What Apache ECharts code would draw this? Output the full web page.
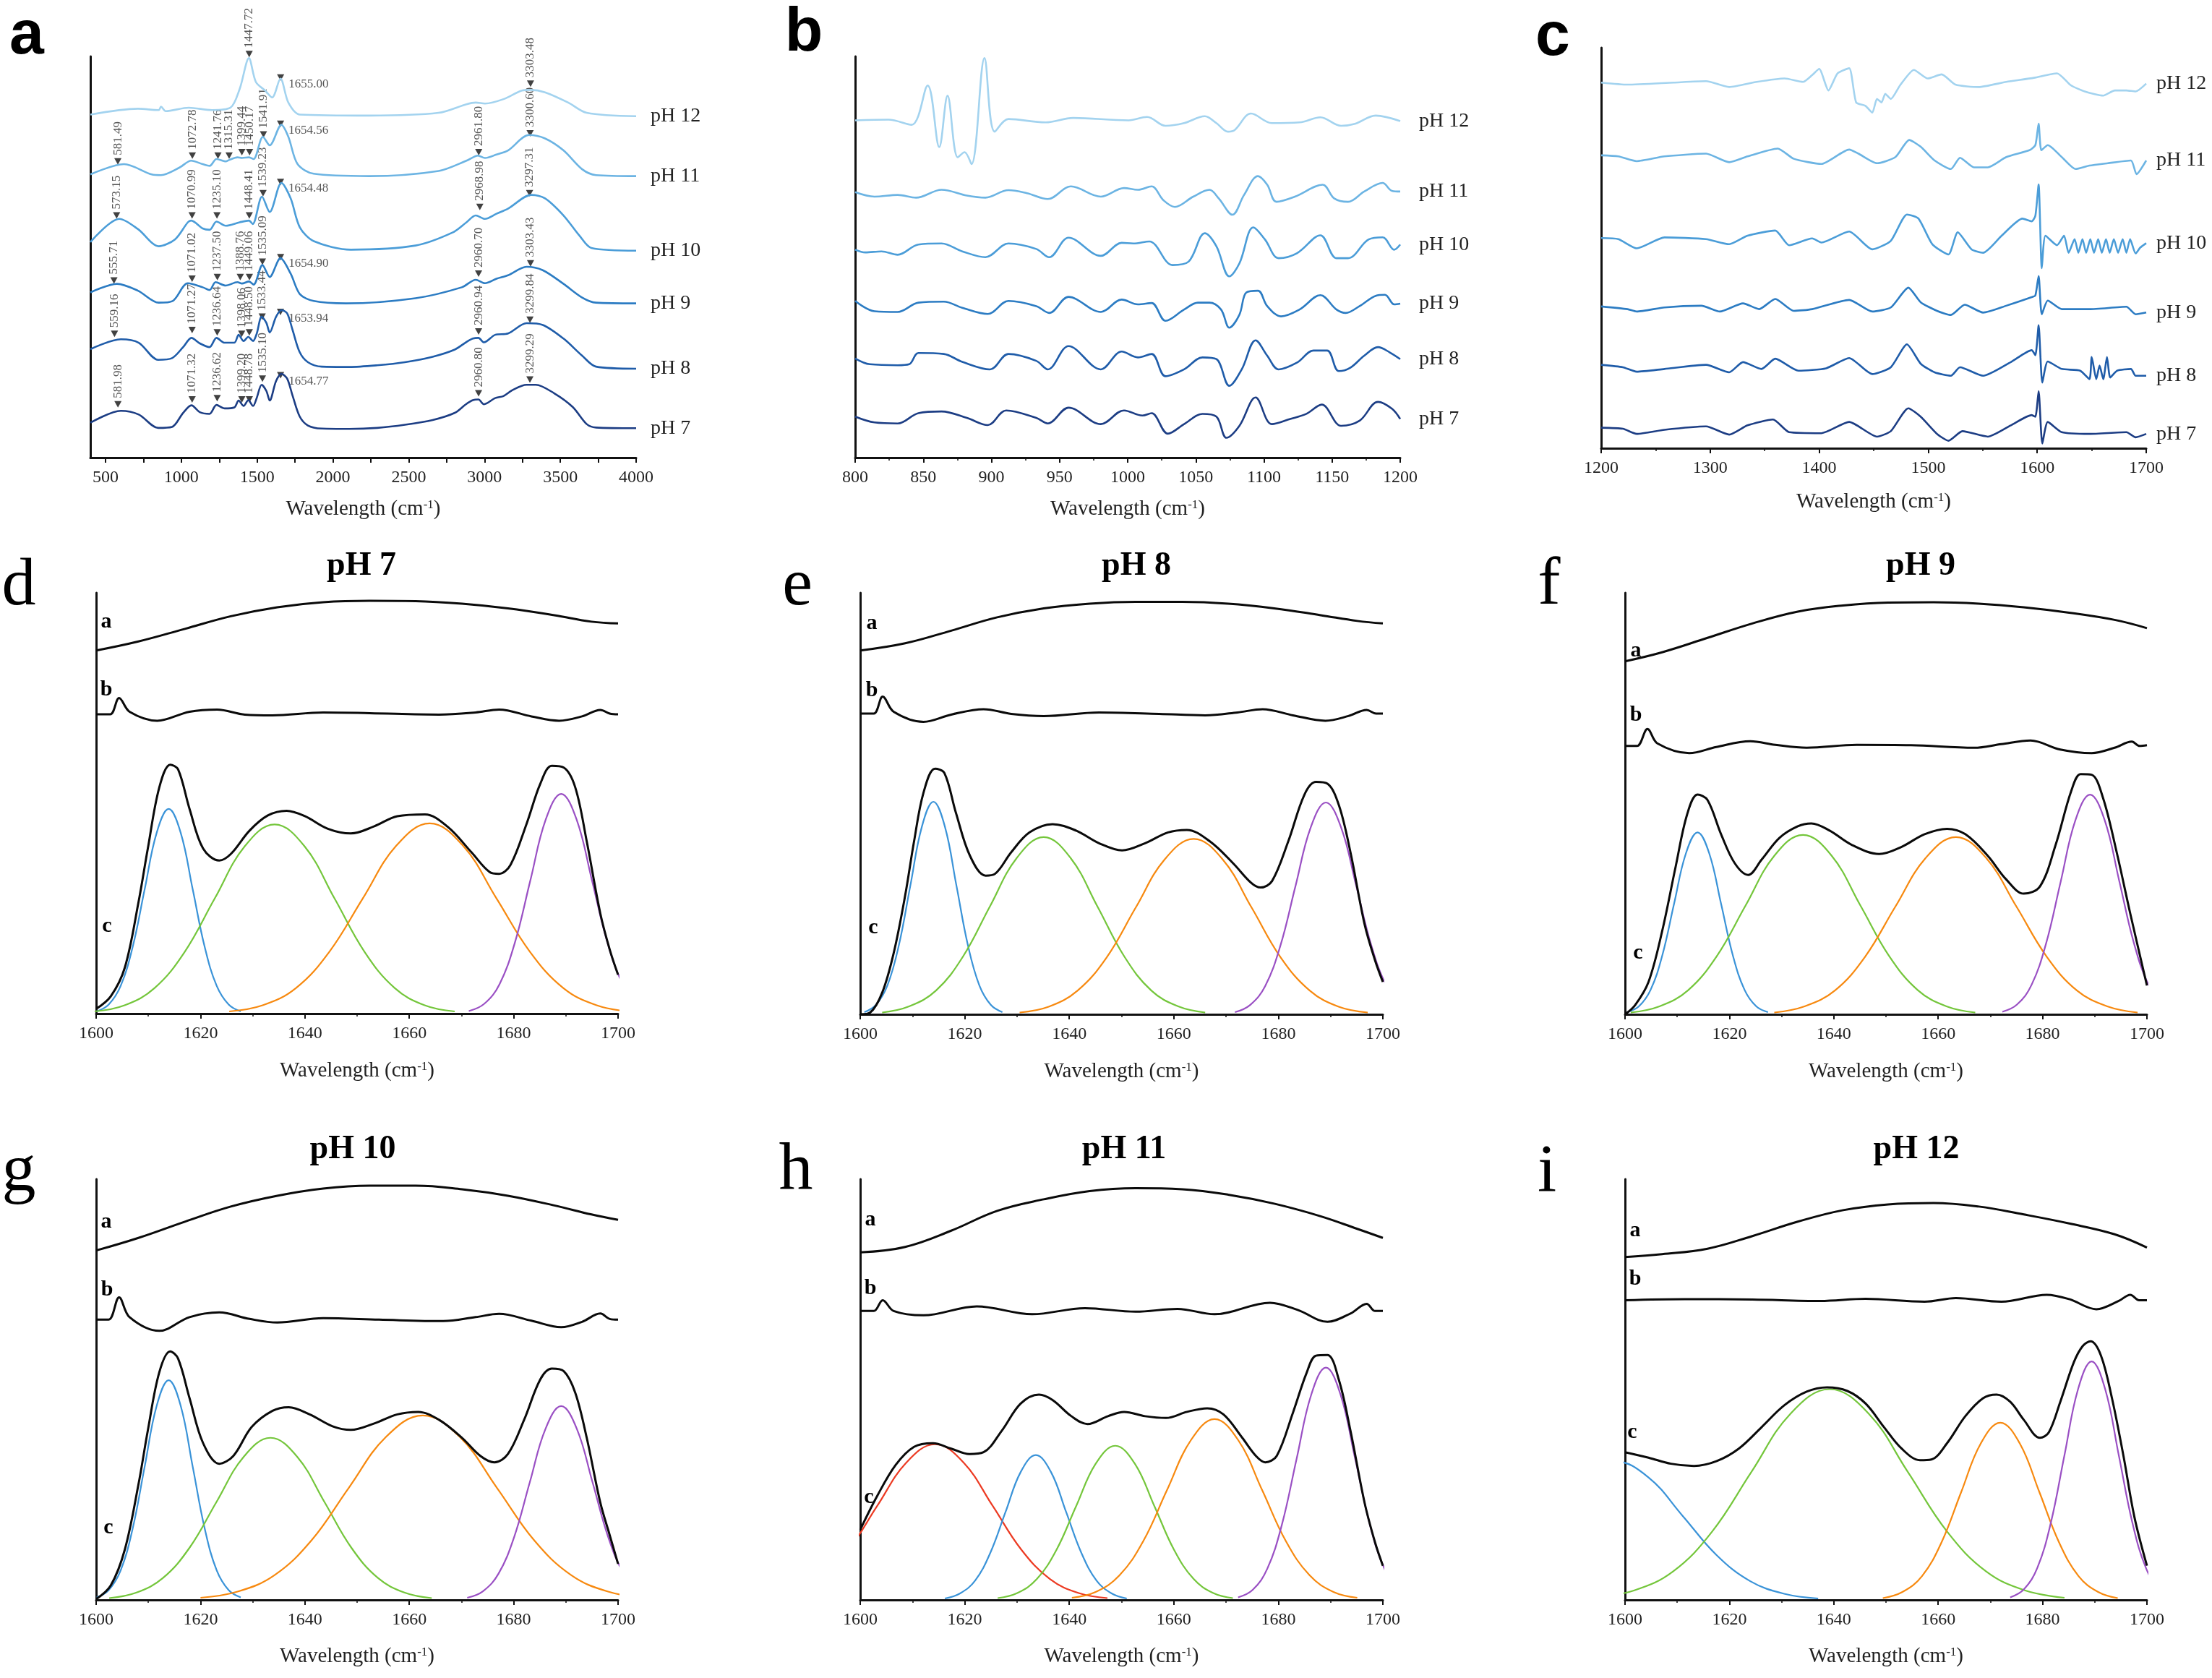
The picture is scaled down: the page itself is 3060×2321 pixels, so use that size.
<!DOCTYPE html>
<html><head><meta charset="utf-8">
<script src="https://cdn.jsdelivr.net/npm/echarts@6/dist/echarts.min.js"></script>
<style>html,body{margin:0;padding:0;background:#fff}#c{width:3060px;height:2321px}</style>
</head><body><div id="c"></div><script>
// ---------------- Panel a : full FTIR spectra (wavenumber, offset absorbance) ----------------
const aTickLabels = [500,1000,1500,2000,2500,3000,3500,4000];
const aTickMarks = [500,750,1000,1250,1500,1750,2000,2250,2500,2750,3000,3250,3500,3750,4000];
const aX7 = [400,601,719,847,939,1012,1067,1122,1186,1232,1286,1350,1378,1411,1442,1473,1497,1530,1561,1583,1625,1661,1698,1734,1780,1835,1926,2109,2292,2475,2658,2804,2877,2923,2960,2996,3070,3125,3186,3277,3338,3460,3582,3674,3735,4000];
const aY7 = [102,137,126,87,90,131,153,133,128,154,144,147,167,151,168,151,174,213,195,167,224,245,231,181,121,94,85,84,87,96,110,131,156,168,170,156,174,180,198,213,213,188,148,98,88,86];
const aX8 = [400,601,719,847,939,1012,1067,1122,1186,1232,1286,1350,1378,1411,1442,1473,1497,1530,1561,1583,1625,1661,1698,1734,1780,1835,1926,2109,2292,2475,2658,2804,2877,2923,2960,2996,3070,3155,3278,3384,3521,3644,3735,4000];
const aY8 = [317,346,336,286,291,323,350,334,323,350,336,336,359,341,353,341,362,412,394,366,412,431,422,373,309,279,266,265,270,279,295,316,337,348,350,337,359,363,393,388,348,298,266,260];
const aX9 = [400,576,714,851,943,1043,1141,1187,1226,1293,1370,1400,1446,1477,1535,1583,1654,1721,1782,1873,2087,2545,2850,2942,3003,3079,3155,3277,3384,3521,3644,3735,4000];
const aY9 = [483,508,488,453,458,510,498,490,513,503,513,509,515,506,563,528,583,538,478,458,451,466,498,520,510,523,533,558,548,508,468,453,451];
const aX10 = [400,592,714,851,958,1043,1065,1141,1187,1232,1293,1385,1446,1471,1532,1583,1660,1721,1782,1873,2118,2545,2789,2881,2942,3003,3079,3155,3308,3399,3521,3628,3705,4000];
const aY10 = [630,698,668,618,638,688,693,670,666,690,678,688,693,683,763,718,803,758,673,633,608,620,658,688,708,698,713,728,768,758,708,648,613,605];
const aX11 = [400,622,805,866,988,1065,1141,1187,1232,1293,1315,1370,1400,1446,1477,1538,1583,1660,1706,1767,1873,2240,2697,2881,2957,3003,3079,3155,3293,3399,3521,3644,3735,4000];
const aY11 = [828,858,828,826,848,868,858,853,873,866,870,878,876,878,873,938,913,973,938,858,830,823,838,868,883,876,886,898,943,933,898,843,826,823];
const aX12 = [400,714,851,866,897,1049,1202,1324,1385,1446,1492,1553,1599,1654,1706,1782,2240,2697,2881,2942,3003,3125,3247,3303,3399,3552,3674,4000];
const aY12 = [1003,1020,1016,1026,1013,1023,1016,1023,1078,1168,1098,1073,1053,1108,1038,1003,1000,1008,1033,1038,1035,1048,1073,1075,1068,1038,1008,998];

// peak annotations of panel a (peak wavenumber, arrow height)
const ann7 = [581.98,1071.32,1236.62,1399.20,1448.78,1535.10,2960.80,3299.29];
const ann7H = [156,170,174,170,170,231,188,228];
const ann8 = [559.16,1071.27,1236.64,1398.06,1448.50,1533.44,2960.94,3299.84];
const ann8H = [362,373,366,362,366,412,369,403];
const ann9 = [555.71,1071.02,1237.50,1388.76,1449.06,1535.09,2960.70,3303.43];
const ann9H = [518,523,528,528,528,573,538,568];
const ann10 = [573.15,1070.99,1235.10,1448.41,1539.23,2968.98,3297.31];
const ann10H = [708,708,708,708,773,733,773];
const ann11 = [581.49,1072.78,1241.76,1315.31,1399.44,1450.17,1541.91,2961.80,3300.60];
const ann11H = [866,883,883,883,893,893,945,893,948];
const ann12 = [1447.72,3303.48];
const ann12H = [1180,1093];
const amide = [1654.77,1653.94,1654.90,1654.48,1654.56,1655.00];
const amideH = [241,426,586,806,976,1111];

// ---------------- Panel b : 800-1200 ----------------
const bX7 = [800,814.2,831.2,846.4,863.4,882.0,897.3,910.8,932.9,941.4,956.6,980.3,997.3,1010.8,1017.6,1029.5,1041.4,1054.9,1065.1,1072.5,1082.0,1093.9,1105.8,1119.3,1131.2,1142.4,1156.6,1170.2,1183.7,1193.9,1200];
const bY7 = [120,103,100,130,135,116,95,138,116,100,146,98,138,123,130,70,98,128,120,58,93,176,98,113,128,155,93,108,163,143,113];
const bX8 = [800,810.8,831.2,839.7,846.4,865.1,878.6,899.0,912.5,932.9,941.4,956.6,980.3,995.6,1007.5,1017.6,1027.8,1041.4,1054.9,1065.1,1074.6,1083.7,1093.9,1102.4,1110.8,1124.4,1136.3,1146.4,1154.9,1163.4,1173.6,1183.7,1192.2,1200];
const bY8 = [290,273,270,273,306,303,280,258,303,283,258,326,258,310,293,303,238,258,293,288,210,258,343,298,258,278,313,313,253,263,298,323,308,288];
const bX9 = [800,814.2,831.2,846.4,865.1,878.6,897.3,912.5,932.9,942.4,956.6,980.3,995.6,1007.5,1017.6,1027.8,1041.4,1051.5,1060.0,1068.5,1074.6,1082.0,1087.1,1095.6,1102.4,1112.5,1126.1,1141.4,1153.2,1160.0,1170.2,1182.0,1188.8,1195.6,1200];
const bY9 = [458,428,426,453,456,438,420,458,443,423,470,426,462,448,452,400,433,453,453,433,380,418,483,488,443,413,433,475,433,423,443,473,476,448,450];
const bX10 = [800,807.5,819.3,831.2,846.4,863.4,878.6,895.6,912.5,932.9,942.4,956.6,980.3,995.6,1004.1,1015.9,1032.9,1044.7,1056.6,1065.1,1074.6,1082.0,1092.2,1100.7,1110.8,1124.4,1141.4,1153.2,1161.7,1176.9,1187.1,1195.6,1200];
const bY10 = [608,600,603,593,623,626,603,586,626,610,586,643,590,628,626,632,563,573,656,618,530,568,673,638,583,598,650,583,583,638,644,608,623];
const bX11 = [800,814.2,831.2,844.7,863.4,882.0,895.6,912.5,926.1,941.4,958.3,980.3,997.3,1007.5,1017.6,1026.1,1034.6,1048.1,1060.0,1066.8,1076.9,1085.4,1095.6,1102.4,1109.2,1122.7,1143.1,1151.5,1161.7,1173.6,1187.1,1193.9,1200];
const bY11 = [776,763,768,760,783,766,760,782,773,756,793,763,788,783,793,753,733,763,783,758,710,768,823,798,748,763,798,758,748,778,803,780,778];
const bX12 = [800,824.4,841.4,853.2,861.7,867.8,875.3,880.3,885.4,894.9,902.4,912.5,939.7,960.0,1000.7,1014.2,1027.8,1041.4,1056.6,1065.1,1073.6,1078.6,1090.5,1105.8,1126.1,1141.4,1156.6,1166.8,1182.0,1200];
const bY12 = [986,988,973,1088,908,1058,878,893,858,1168,953,990,980,993,986,996,970,978,998,978,953,958,1006,978,980,995,970,976,1000,984];

// ---------------- Panel c : 1200-1700 ----------------
const cX7 = [1200,1219.9,1232.6,1258.1,1296.2,1317.4,1334.3,1357.6,1372.5,1402.1,1427.5,1453.0,1465.7,1481.8,1493.2,1508.1,1518.6,1531.4,1554.7,1575.8,1594.9,1598.3,1601.3,1604.7,1609.7,1622.5,1647.9,1681.8,1690.3,1700];
const cY7 = [60,57,42,54,64,40,67,84,47,44,77,34,50,117,92,42,22,50,34,67,97,92,167,14,77,47,42,47,32,42];
const cX8 = [1200,1219.9,1232.6,1258.1,1296.2,1317.4,1330.1,1347.0,1359.7,1380.9,1406.4,1427.5,1448.7,1465.7,1480.5,1493.2,1505.9,1520.8,1529.2,1550.4,1575.8,1594.9,1598.3,1601.3,1604.7,1609.7,1622.5,1639.4,1647.9,1650.0,1654.2,1657.2,1660.6,1664.0,1667.0,1673.3,1686.0,1690.3,1700];
const cY8 = [244,237,224,232,244,222,252,232,262,227,234,264,217,237,304,247,222,212,237,212,252,287,272,360,192,254,232,227,202,267,202,242,202,267,207,227,232,212,212];
const cX9 = [1200,1224.2,1232.6,1258.1,1291.9,1308.9,1330.1,1344.9,1359.7,1376.7,1393.6,1427.5,1448.7,1465.7,1481.8,1493.2,1508.1,1520.8,1533.5,1550.4,1571.6,1594.9,1598.3,1601.3,1604.2,1609.7,1622.5,1647.9,1681.8,1690.3,1700];
const cY9 = [415,407,400,412,417,400,424,407,437,402,407,434,400,412,470,427,402,390,420,397,417,442,447,504,392,432,407,407,414,392,397];
const cX10 = [1200,1215.7,1232.6,1258.1,1296.2,1317.4,1334.3,1359.7,1372.5,1393.6,1402.1,1427.5,1448.7,1465.7,1480.5,1491.1,1503.8,1518.6,1527.1,1539.8,1550.4,1567.4,1586.4,1594.9,1598.3,1601.3,1604.2,1607.6,1618.2,1624.6,1628.8,1634.3,1637.7,1641.5,1644.9,1648.7,1652.1,1655.9,1659.3,1663.1,1666.5,1670.3,1674.2,1678.4,1681.8,1685.2,1690.3,1694.5,1700];
const cY10 = [615,612,585,617,612,597,622,637,594,614,602,634,582,607,684,672,597,567,632,582,572,622,672,664,680,772,527,622,594,622,572,612,572,612,572,612,572,612,572,612,572,612,572,612,572,612,570,587,600];
const cX11 = [1200,1215.7,1232.6,1258.1,1296.2,1317.4,1334.3,1361.9,1376.7,1402.1,1427.5,1436.0,1453.0,1469.9,1482.6,1493.2,1505.9,1520.8,1529.2,1542.0,1554.7,1571.6,1592.8,1598.3,1601.3,1603.8,1609.7,1622.5,1635.2,1647.9,1664.8,1686.0,1691.1,1700];
const cY11 = [857,854,840,854,862,837,854,877,847,832,874,862,834,852,902,882,842,817,850,822,822,852,872,887,950,872,887,852,817,827,834,842,802,842];
const cX12 = [1200,1224.2,1266.5,1296.2,1317.4,1342.8,1368.2,1385.2,1393.6,1400.0,1408.5,1416.9,1427.5,1433.9,1442.4,1448.7,1453.0,1457.2,1460.6,1465.7,1474.2,1486.9,1499.6,1512.3,1525.0,1546.2,1571.6,1597.0,1618.2,1630.9,1643.6,1660.6,1671.2,1681.8,1690.3,1700];
const cY12 = [1070,1064,1070,1074,1057,1072,1082,1072,1092,1110,1047,1097,1112,1012,1002,982,1022,1012,1037,1022,1062,1107,1082,1094,1064,1057,1072,1084,1097,1062,1044,1032,1047,1047,1044,1067];

// ---------------- Panels d-i : amide I deconvolution (1600-1700) ----------------
// d  pH 7
const dAx = [1600,1608.1,1617.0,1625.8,1634.7,1643.5,1652.4,1661.2,1670.1,1678.9,1687.8,1694.9,1700];
const dAy = [1008,1033,1068,1103,1128,1142,1146,1145,1138,1125,1106,1088,1083];
const dBx = [1600,1602.7,1604.4,1606.4,1611.7,1617.9,1623.2,1628.5,1633.8,1643.5,1652.4,1665.7,1672.7,1677.2,1683.4,1688.7,1693.1,1696.6,1698.4,1700];
const dBy = [831,831,876,838,813,838,844,830,828,836,834,830,836,844,825,813,825,843,833,831];
const dCx = [1600,1602.8,1605.5,1608.1,1609.9,1612.1,1614.2,1615.7,1617.9,1620.5,1623.6,1625.8,1629.4,1632.9,1636.5,1640.0,1644.4,1648.8,1653.3,1657.7,1663.0,1667.4,1671.9,1675.4,1677.2,1679.4,1682.5,1685.1,1687.3,1689.6,1691.8,1694.0,1696.6,1698.4,1700];
const dCy = [13,48,128,308,458,628,691,678,568,458,425,443,508,550,563,548,513,500,520,548,553,518,448,393,388,413,528,638,688,683,628,478,278,178,108];
const dBlueX = [1600.1,1602.4,1604.7,1607.0,1609.3,1611.6,1613.9,1616.2,1618.5,1620.8,1623.1,1625.4,1627.7];
const dBlueY = [6,25,77,185,345,502,568,502,345,185,77,25,6];
const dGreenX = [1599.7,1605.45,1611.2,1616.95,1622.7,1628.45,1634.2,1639.95,1645.7,1651.45,1657.2,1662.95,1668.7];
const dGreenY = [6,23,71,171,319,464,525,464,319,171,71,23,6];
const dOrangeX = [1625.5,1631.9,1638.3,1644.7,1651.1,1657.5,1663.9,1670.3,1676.7,1683.1,1689.5,1695.9,1702.3];
const dOrangeY = [6,23,71,172,320,466,528,466,320,172,71,23,6];
const dPurpleX = [1671.4,1674.35,1677.3,1680.25,1683.2,1686.15,1689.1,1692.05,1695.0,1697.95,1700.9,1703.85,1706.8];
const dPurpleY = [7,27,82,198,370,539,610,539,370,198,82,27,7];
// e  pH 8
const eAx = [1600,1608.6,1617.4,1626.2,1635.1,1643.9,1652.7,1661.6,1670.4,1679.2,1688.1,1695.1,1700];
const eAy = [1010,1030,1065,1102,1127,1140,1145,1145,1140,1127,1108,1092,1085];
const eBx = [1600,1602.6,1604.3,1606.4,1612.1,1617.4,1623.6,1628.9,1635.1,1645.7,1657.2,1666.0,1672.2,1677.0,1682.8,1689.0,1693.4,1696.9,1698.7,1700];
const eBy = [835,835,882,840,812,832,847,834,828,838,834,830,838,847,830,815,828,845,835,835];
const eCx = [1600,1601.9,1604.2,1606.4,1608.6,1610.3,1612.1,1614.3,1616.1,1618.3,1621.0,1624.0,1625.8,1628.9,1632.4,1636.8,1641.3,1645.7,1650.1,1654.5,1658.9,1662.5,1666.9,1671.3,1674.8,1676.6,1678.8,1681.9,1685.0,1687.2,1689.4,1691.6,1693.8,1696.5,1698.5,1700];
const eCy = [0,5,60,170,330,480,615,682,670,560,440,385,390,450,505,528,510,475,455,475,505,512,480,420,365,352,370,480,610,645,640,580,450,250,150,90];
const eBlueX = [1600.8,1603.0,1605.2,1607.4,1609.6,1611.8,1614.0,1616.2,1618.4,1620.6,1622.8,1625.0,1627.2];
const eBlueY = [6,26,80,192,358,521,590,521,358,192,80,26,6];
const eGreenX = [1604.2,1609.35,1614.5,1619.65,1624.8,1629.95,1635.1,1640.25,1645.4,1650.55,1655.7,1660.85,1666.0];
const eGreenY = [5,22,66,160,299,434,492,434,299,160,66,22,5];
const eOrangeX = [1630.5,1636.05,1641.6,1647.15,1652.7,1658.25,1663.8,1669.35,1674.9,1680.45,1686.0,1691.55,1697.1];
const eOrangeY = [5,21,66,158,296,430,487,430,296,158,66,21,5];
const ePurpleX = [1671.7,1674.6,1677.5,1680.4,1683.3,1686.2,1689.1,1692.0,1694.9,1697.8,1700.7,1703.6,1706.5];
const ePurpleY = [6,26,79,191,357,519,588,519,357,191,79,26,6];
// f  pH 9
const fAx = [1600,1607.1,1615.8,1624.4,1633.1,1641.8,1650.4,1659.1,1667.8,1676.4,1685.1,1693.8,1700];
const fAy = [980,1005,1045,1085,1118,1135,1143,1144,1140,1130,1115,1095,1072];
const fBx = [1600,1602.3,1604.3,1606.2,1612.3,1617.5,1624.0,1628.8,1634.8,1644.4,1654.8,1666.9,1672.1,1677.7,1683.4,1689.4,1693.8,1697.1,1698.6,1700];
const fBy = [745,745,792,752,725,742,758,748,740,748,747,740,750,760,735,725,740,757,745,747];
const fCx = [1600,1601.9,1604.5,1607.1,1609.7,1611.9,1613.9,1615.8,1618.4,1621.0,1623.6,1626.2,1629.6,1633.1,1635.7,1639.2,1643.5,1648.7,1653.0,1657.4,1661.7,1665.2,1669.5,1673.0,1676.4,1679.5,1682.5,1685.5,1687.3,1689.4,1691.6,1694.2,1696.8,1700];
const fCy = [0,25,90,230,410,555,610,595,500,420,387,430,490,522,530,510,470,445,465,500,515,500,440,375,335,355,470,620,667,665,600,450,280,80];
const fBlueX = [1600.4,1602.65,1604.9,1607.15,1609.4,1611.65,1613.9,1616.15,1618.4,1620.65,1622.9,1625.15,1627.4];
const fBlueY = [6,22,68,164,307,446,505,446,307,164,68,22,6];
const fGreenX = [1601.1,1606.6,1612.1,1617.6,1623.1,1628.6,1634.1,1639.6,1645.1,1650.6,1656.1,1661.6,1667.1];
const fGreenY = [5,22,67,162,302,440,498,440,302,162,67,22,5];
const fOrangeX = [1628.6,1634.4,1640.2,1646.0,1651.8,1657.6,1663.4,1669.2,1675.0,1680.8,1686.6,1692.4,1698.2];
const fOrangeY = [5,22,66,160,299,434,492,434,299,160,66,22,5];
const fPurpleX = [1672.3,1675.1,1677.9,1680.7,1683.5,1686.3,1689.1,1691.9,1694.7,1697.5,1700.3,1703.1,1705.9];
const fPurpleY = [7,27,82,198,370,539,610,539,370,198,82,27,7];
// g  pH 10
const gAx = [1600,1608.1,1617.0,1625.8,1634.7,1643.5,1652.4,1661.2,1670.1,1678.9,1687.8,1694.9,1700];
const gAy = [970,1005,1050,1092,1122,1142,1150,1150,1140,1122,1095,1070,1055];
const gBx = [1600,1602.4,1604.4,1606.4,1612.1,1617.9,1623.6,1629.4,1634.7,1643.5,1654.2,1666.5,1672.7,1677.2,1683.4,1689.1,1693.1,1696.6,1698.4,1700];
const gBy = [778,778,840,785,747,785,798,780,770,782,778,774,785,794,775,757,772,795,780,778];
const gCx = [1600,1602.8,1605.5,1608.1,1609.9,1612.1,1614.2,1615.7,1617.9,1620.5,1623.6,1626.3,1629.8,1633.8,1636.9,1640.9,1645.3,1648.8,1653.3,1657.7,1661.7,1665.7,1670.1,1673.6,1676.3,1678.9,1682.0,1685.1,1687.3,1689.6,1691.8,1694.0,1696.6,1698.4,1700];
const gCy = [2,40,140,320,470,632,690,670,560,435,378,400,480,525,535,515,482,472,490,515,522,500,450,400,382,405,500,612,642,635,575,450,270,180,100];
const gBlueX = [1600.1,1602.4,1604.7,1607.0,1609.3,1611.6,1613.9,1616.2,1618.5,1620.8,1623.1,1625.4,1627.7];
const gBlueY = [7,27,82,198,370,539,610,539,370,198,82,27,7];
const gGreenX = [1602.5,1607.65,1612.8,1617.95,1623.1,1628.25,1633.4,1638.55,1643.7,1648.85,1654.0,1659.15,1664.3];
const gGreenY = [5,20,61,146,273,397,450,397,273,146,61,20,5];
const gOrangeX = [1620.0,1627.1,1634.2,1641.3,1648.4,1655.5,1662.6,1669.7,1676.8,1683.9,1691.0,1698.1,1705.2];
const gOrangeY = [6,23,69,166,311,452,512,452,311,166,69,23,6];
const gPurpleX = [1671.1,1674.1,1677.1,1680.1,1683.1,1686.1,1689.1,1692.1,1695.1,1698.1,1701.1,1704.1,1707.1];
const gPurpleY = [6,24,73,175,327,475,538,475,327,175,73,24,6];
// h  pH 11
const hAx = [1600,1608.6,1617.4,1626.2,1635.1,1643.9,1652.7,1661.6,1670.4,1679.2,1688.1,1695.1,1700];
const hAy = [965,980,1025,1080,1112,1135,1143,1140,1125,1100,1065,1030,1005];
const hBx = [1600,1602.6,1604.3,1606.4,1612.1,1622.3,1632.9,1643.0,1652.7,1660.7,1667.8,1678.4,1683.7,1689.4,1693.8,1696.9,1698.5,1700];
const hBy = [802,802,832,802,790,815,793,810,800,808,793,825,805,772,795,822,802,802];
const hCx = [1600,1603.3,1606.8,1610.3,1613.9,1617.4,1620.9,1623.6,1627.1,1630.7,1634.2,1636.8,1640.4,1643.5,1647.4,1650.5,1654.5,1658.5,1662.5,1666.4,1669.5,1673.1,1675.7,1677.5,1679.7,1682.8,1685.4,1687.2,1689.4,1691.6,1693.8,1696.5,1698.5,1700];
const hCy = [195,290,375,425,435,420,405,410,470,545,570,555,510,488,510,522,510,505,522,532,515,450,400,382,400,520,630,678,680,610,470,270,160,95];
const hRedX = [1581.3,1586.8,1592.3,1597.8,1603.3,1608.8,1614.3,1619.8,1625.3,1630.8,1636.3,1641.8,1647.3];
const hRedY = [5,19,58,140,262,381,432,381,262,140,58,19,5];
const hBlueX = [1616.2,1619.1,1622.0,1624.9,1627.8,1630.7,1633.6,1636.5,1639.4,1642.3,1645.2,1648.1,1651.0];
const hBlueY = [4,18,54,131,244,355,402,355,244,131,54,18,4];
const hGreenX = [1626.3,1630.05,1633.8,1637.55,1641.3,1645.05,1648.8,1652.55,1656.3,1660.05,1663.8,1667.55,1671.3];
const hGreenY = [5,19,58,139,260,378,428,378,260,139,58,19,5];
const hOrangeX = [1640.5,1645.05,1649.6,1654.15,1658.7,1663.25,1667.8,1672.35,1676.9,1681.45,1686.0,1690.55,1695.1];
const hOrangeY = [6,22,68,163,305,443,502,443,305,163,68,22,6];
const hPurpleX = [1672.3,1675.1,1677.9,1680.7,1683.5,1686.3,1689.1,1691.9,1694.7,1697.5,1700.3,1703.1,1705.9];
const hPurpleY = [7,28,87,210,392,570,645,570,392,210,87,28,7];
// i  pH 12
const iAx = [1600,1607.1,1615.8,1624.4,1633.1,1641.8,1650.4,1659.1,1667.8,1676.4,1685.1,1693.8,1700];
const iAy = [952,960,975,1010,1050,1082,1098,1102,1092,1070,1045,1015,978];
const iBx = [1600,1611.4,1624.4,1637.4,1646.1,1657.4,1663.4,1672.1,1680.8,1685.1,1690.3,1694.6,1696.8,1698.5,1700];
const iBy = [832,835,834,830,836,828,838,828,847,835,807,830,847,832,832];
const iCx = [1600,1604.5,1608.8,1613.2,1617.5,1621.8,1626.2,1630.5,1634.8,1638.7,1642.6,1646.1,1649.6,1653.0,1656.5,1658.7,1661.7,1665.2,1668.6,1671.2,1673.8,1676.4,1679.5,1681.2,1683.4,1686.0,1687.7,1689.2,1691.2,1693.3,1695.5,1697.6,1700];
const iCy = [410,395,378,372,385,420,480,540,578,590,580,545,480,420,388,390,435,510,560,570,550,500,450,465,550,660,705,718,678,560,400,230,95];
const iBlueX = [1559,1565.5,1572,1578.5,1585,1591.5,1598,1604.5,1611,1617.5,1624,1630.5,1637];
const iBlueY = [4,17,52,125,234,340,385,340,234,125,52,17,4];
const iGreenX = [1594.2,1601.7,1609.2,1616.7,1624.2,1631.7,1639.2,1646.7,1654.2,1661.7,1669.2,1676.7,1684.2];
const iGreenY = [6,26,79,190,355,517,585,517,355,190,79,26,6];
const iOrangeX = [1649.4,1653.15,1656.9,1660.65,1664.4,1668.15,1671.9,1675.65,1679.4,1683.15,1686.9,1690.65,1694.4];
const iOrangeY = [5,22,66,160,299,434,492,434,299,160,66,22,5];
const iPurpleX = [1673.8,1676.4,1679.0,1681.6,1684.2,1686.8,1689.4,1692.0,1694.6,1697.2,1699.8,1702.4,1705.0];
const iPurpleY = [7,29,89,215,402,585,662,585,402,215,89,29,7];

const phNames = ['pH 7','pH 8','pH 9','pH 10','pH 11','pH 12'];
const fitTitles = ['pH 7','pH 8','pH 9','pH 10','pH 11','pH 12'];

// ---------------- styling / layout ----------------
const SERIF = '"Liberation Serif","Times New Roman",serif';
const SANS = '"Liberation Sans",Arial,sans-serif';
const phColors = ['#1c3d84','#1f5ca9','#2c7cc3','#4b9dd8','#6cb4e3','#a3d3ef'];
const C = {blue:'#3a93d8', green:'#74c63b', orange:'#f7890f', purple:'#9a50c4', red:'#ec3a22'};
const zip = (xs, ys) => xs.map((x, i) => [x, ys[i]]);

const grids = [
  {left:125, top:78, width:755, height:555},
  {left:1183, top:78, width:754, height:555},
  {left:2215, top:66, width:754, height:554},
  {left:133, top:820, width:722, height:582},
  {left:1190, top:820, width:723, height:583},
  {left:2248, top:820, width:722, height:583},
  {left:133, top:1631, width:722, height:582},
  {left:1190, top:1631, width:723, height:582},
  {left:2248, top:1631, width:722, height:582}
].map(g => Object.assign({outerBoundsMode:'none', containLabel:false}, g));
const yMax = [1173,1173,1172,1168,1170,1170,1168,1168,1168];
const nameGaps = [57,57,60,65,65,65,64,64,64];

const axisLine = {show:true, onZero:false, lineStyle:{color:'#111', width:3}};
const nameStyle = {fontFamily:SERIF, fontSize:29, color:'#222',
  rich:{sup:{fontFamily:SERIF, fontSize:17, color:'#222', verticalAlign:'top', lineHeight:14}}};
const axisName = 'Wavelength (cm{sup|-1})';
const labStyle = {fontFamily:SERIF, fontSize:24, color:'#222', margin:16, formatter: v => String(v)};

const xAxes = [];
const yAxes = [];
for (let g = 0; g < 9; g++) {
  const base = {gridIndex:g, type:'value', axisLine, splitLine:{show:false},
    name:axisName, nameLocation:'middle', nameGap:nameGaps[g], nameTextStyle:nameStyle,
    axisLabel:Object.assign({}, labStyle),
    axisTick:{show:true, length:7, lineStyle:{color:'#111', width:2}},
    minorTick:{show:true, splitNumber:2, length:4, lineStyle:{color:'#111', width:1.5}}};
  if (g === 0) {
    base.min = 400; base.max = 4000;
    base.axisLabel.customValues = aTickLabels;
    base.axisTick.customValues = aTickMarks;
    base.minorTick = {show:false};
  } else if (g === 1) {
    base.min = 800; base.max = 1200; base.interval = 50;
  } else if (g === 2) {
    base.min = 1200; base.max = 1700; base.interval = 100;
  } else {
    base.min = 1600; base.max = 1700; base.interval = 20;
  }
  xAxes.push(base);
  yAxes.push({gridIndex:g, type:'value', min:0, max:yMax[g], axisLine,
    axisTick:{show:false}, axisLabel:{show:false}, splitLine:{show:false}});
}

const series = [];
function spectra(g, xs, ys, dist, smooth) {
  for (let i = 0; i < 6; i++) {
    series.push({type:'line', xAxisIndex:g, yAxisIndex:g, data:zip(xs[i], ys[i]),
      showSymbol:false, symbol:'none', smooth:smooth, silent:true,
      lineStyle:{color:phColors[i], width:2.6},
      endLabel:{show:true, formatter:phNames[i], distance:dist, color:'#222', fontFamily:SERIF, fontSize:28}});
  }
}
spectra(0, [aX7,aX8,aX9,aX10,aX11,aX12], [aY7,aY8,aY9,aY10,aY11,aY12], 20, 0.3);
spectra(1, [bX7,bX8,bX9,bX10,bX11,bX12], [bY7,bY8,bY9,bY10,bY11,bY12], 26, 0.35);
spectra(2, [cX7,cX8,cX9,cX10,cX11,cX12], [cY7,cY8,cY9,cY10,cY11,cY12], 14, 0.2);

// peak annotations
const annFont = {fontFamily:SERIF, fontSize:17, color:'#2a2a2a'};
const fmt = p => p.value[0].toFixed(2);
[[ann7,ann7H],[ann8,ann8H],[ann9,ann9H],[ann10,ann10H],[ann11,ann11H],[ann12,ann12H]].forEach(([w,h]) => {
  series.push({type:'scatter', xAxisIndex:0, yAxisIndex:0, clip:false, silent:true,
    symbol:'triangle', symbolRotate:180, symbolSize:[10,9], itemStyle:{color:'#111'},
    data:zip(w,h),
    label:Object.assign({show:true, position:'top', rotate:90, align:'left', verticalAlign:'middle', distance:4, formatter:fmt}, annFont)});
});
series.push({type:'scatter', xAxisIndex:0, yAxisIndex:0, clip:false, silent:true,
  symbol:'triangle', symbolRotate:180, symbolSize:[10,9], itemStyle:{color:'#111'},
  data:zip(amide, amideH),
  label:Object.assign({show:true, position:'right', distance:6, offset:[0,9], formatter:fmt}, annFont)});

// deconvolution panels
function fitPanel(g, ax, ay, bx, by, cx, cy, comps) {
  comps.forEach(([xs, ys, col]) => {
    series.push({type:'line', xAxisIndex:g, yAxisIndex:g, data:zip(xs, ys), showSymbol:false, symbol:'none',
      smooth:0.4, silent:true, lineStyle:{color:col, width:2.2}});
  });
  [[ax,ay,0.4],[bx,by,0.35],[cx,cy,0.35]].forEach(([xs, ys, sm]) => {
    series.push({type:'line', xAxisIndex:g, yAxisIndex:g, data:zip(xs, ys), showSymbol:false, symbol:'none',
      smooth:sm, silent:true, lineStyle:{color:'#0a0a0a', width:3}});
  });
}
fitPanel(3, dAx,dAy,dBx,dBy,dCx,dCy, [[dBlueX,dBlueY,C.blue],[dGreenX,dGreenY,C.green],[dOrangeX,dOrangeY,C.orange],[dPurpleX,dPurpleY,C.purple]]);
fitPanel(4, eAx,eAy,eBx,eBy,eCx,eCy, [[eBlueX,eBlueY,C.blue],[eGreenX,eGreenY,C.green],[eOrangeX,eOrangeY,C.orange],[ePurpleX,ePurpleY,C.purple]]);
fitPanel(5, fAx,fAy,fBx,fBy,fCx,fCy, [[fBlueX,fBlueY,C.blue],[fGreenX,fGreenY,C.green],[fOrangeX,fOrangeY,C.orange],[fPurpleX,fPurpleY,C.purple]]);
fitPanel(6, gAx,gAy,gBx,gBy,gCx,gCy, [[gBlueX,gBlueY,C.blue],[gGreenX,gGreenY,C.green],[gOrangeX,gOrangeY,C.orange],[gPurpleX,gPurpleY,C.purple]]);
fitPanel(7, hAx,hAy,hBx,hBy,hCx,hCy, [[hRedX,hRedY,C.red],[hBlueX,hBlueY,C.blue],[hGreenX,hGreenY,C.green],[hOrangeX,hOrangeY,C.orange],[hPurpleX,hPurpleY,C.purple]]);
fitPanel(8, iAx,iAy,iBx,iBy,iCx,iCy, [[iBlueX,iBlueY,C.blue],[iGreenX,iGreenY,C.green],[iOrangeX,iOrangeY,C.orange],[iPurpleX,iPurpleY,C.purple]]);

// texts: panel letters, titles, trace labels
function txt(x, y, text, font) {
  return {type:'text', x, y, silent:true,
    style:{text, font, fill:'#000', align:'center', verticalAlign:'middle', textAlign:'center', textVerticalAlign:'middle'}};
}
const graphic = [];
const sansL = 'bold 86px ' + SANS;
const serifL = '94px ' + SERIF;
graphic.push(txt(37, 50, 'a', sansL), txt(1112, 46, 'b', sansL), txt(2148, 52, 'c', sansL));
graphic.push(txt(26, 811, 'd', serifL), txt(1103, 811, 'e', serifL), txt(2143, 810, 'f', serifL));
graphic.push(txt(26, 1621, 'g', serifL), txt(1101, 1620, 'h', serifL), txt(2140, 1622, 'i', serifL));
const titleFont = 'bold 46px ' + SERIF;
const titlePos = [[500,783],[1572,783],[2657,783],[488,1590],[1555,1590],[2651,1590]];
titlePos.forEach((p, k) => graphic.push(txt(p[0], p[1], fitTitles[k], titleFont)));
const trFont = 'bold 30px ' + SERIF;
const trPos = [
  [[147,860],[147,954],[148,1281]],
  [[1206,862],[1206,955],[1208,1283]],
  [[2263,900],[2263,989],[2266,1318]],
  [[147,1690],[148,1784],[150,2113]],
  [[1204,1687],[1204,1782],[1202,2071]],
  [[2262,1702],[2262,1769],[2258,1981]]];
trPos.forEach(ps => ['a','b','c'].forEach((t, k) => graphic.push(txt(ps[k][0], ps[k][1], t, trFont))));

const chart = echarts.init(document.getElementById('c'), null, {renderer:'canvas'});
chart.setOption({
  animation:false,
  backgroundColor:'#ffffff',
  grid:grids, xAxis:xAxes, yAxis:yAxes, series, graphic
});
</script></body></html>
